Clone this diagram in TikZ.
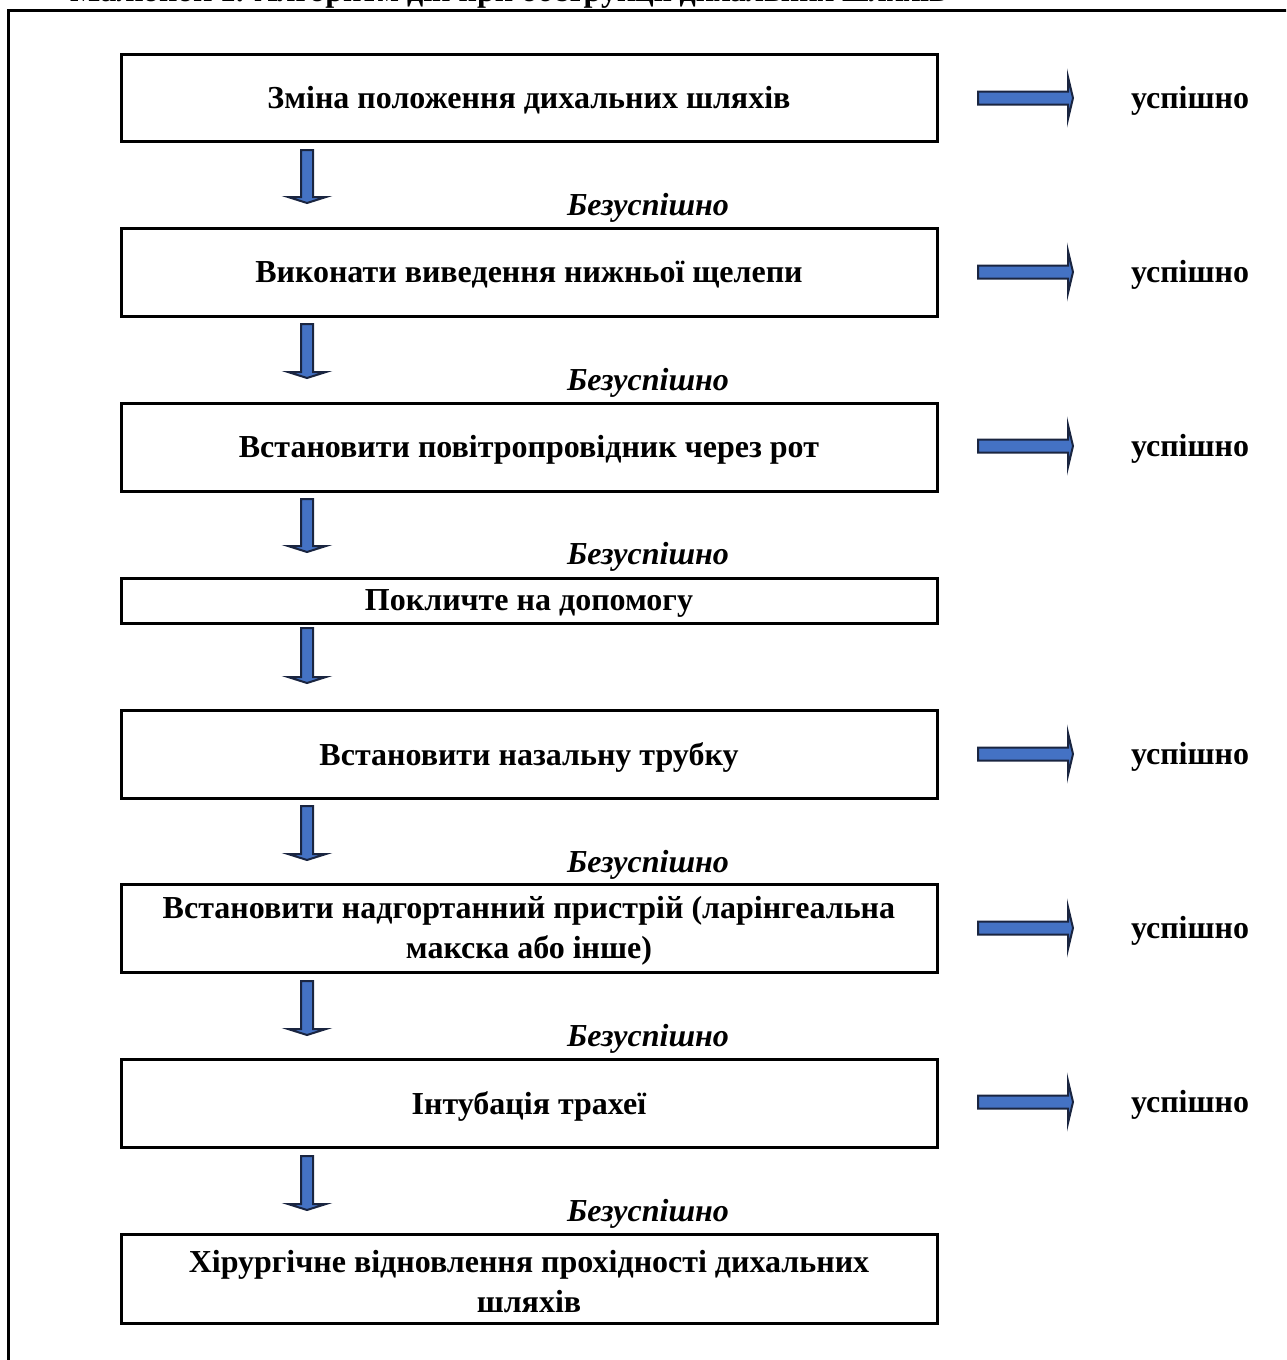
\documentclass[tikz,border=0pt]{standalone}
\usepackage{fontspec}
\setmainfont{Liberation Serif}
\usetikzlibrary{calc}
\definecolor{arrfill}{HTML}{4472C4}
\definecolor{arrline}{HTML}{1A2540}
\tikzset{
  stepbox/.style={draw=black, line width=3pt, minimum width=816pt, inner sep=0pt},
  boxtext/.style={align=center, inner sep=0pt, yshift=-3pt, font=\fontsize{32}{40}\selectfont\bfseries},
  faillabel/.style={font=\fontsize{32}{38}\selectfont\bfseries\itshape, inner sep=0pt},
  oklabel/.style={font=\fontsize{32}{38}\selectfont\bfseries, inner sep=0pt},
  blockarr/.style={fill=arrfill, draw=arrline, line width=2pt, line join=miter}
}
\newcommand{\downarr}[3]{% x top bottom
  \draw[blockarr] (#1-6,#2) -- (#1+6,#2) -- (#1+6,#3-6) -- (#1+19,#3-6) -- (#1,#3) -- (#1-19,#3-6) -- (#1-6,#3-6) -- cycle;}
\newcommand{\rightarr}[1]{% center y
  \draw[blockarr] (978,#1-6.5) -- (1068,#1-6.5) -- (1068,#1-21) -- (1073,#1) -- (1068,#1+21) -- (1068,#1+6.5) -- (978,#1+6.5) -- cycle;}
\begin{document}
\begin{tikzpicture}[x=1pt,y=-1pt]
\useasboundingbox (0,0) rectangle (1286,1360);
\clip (0,0) rectangle (1286,1360);
% outer frame
\draw[line width=3pt] (8.5,1362) -- (8.5,10) -- (1290,10);
% clipped title
\node[anchor=base west, inner sep=0pt, font=\fontsize{32}{38}\selectfont\bfseries] (title) at (70,1) {Малюнок 1. Алгоритм дій при обструкції дихальних шляхів};
% boxes
\node[stepbox, minimum height=87pt, label={[boxtext]center:Зміна положення дихальних шляхів}] (b1) at (529,97.5) {};
\node[stepbox, minimum height=88pt, label={[boxtext]center:Виконати виведення нижньої щелепи}] (b2) at (529,272) {};
\node[stepbox, minimum height=88pt, label={[boxtext]center:Встановити повітропровідник через рот}] (b3) at (529,447) {};
\node[stepbox, minimum height=45pt, label={[boxtext]center:Покличте на допомогу}] (b4) at (529,600.5) {};
\node[stepbox, minimum height=88pt, label={[boxtext]center:Встановити назальну трубку}] (b5) at (529,754) {};
\node[stepbox, minimum height=88pt, label={[boxtext]center:{Встановити надгортанний пристрій (ларінгеальна\\макска або інше)}}] (b6) at (529,928) {};
\node[stepbox, minimum height=88pt, label={[boxtext]center:Інтубація трахеї}] (b7) at (529,1103) {};
\node[stepbox, minimum height=89pt, label={[boxtext]center:{Хірургічне відновлення прохідності дихальних\\шляхів}}] (b8) at (529,1278.5) {};
% fail labels
\foreach \y/\n in {208/f1,383/f2,557/f3,865/f5,1039/f6,1214/f7}
  \node[faillabel] (\n) at (648,\y) {Безуспішно};
% down arrows
\downarr{307}{150}{203}
\downarr{307}{324}{378}
\downarr{307}{499}{552}
\downarr{307}{628}{683}
\downarr{307}{806}{860}
\downarr{307}{981}{1035}
\downarr{307}{1156}{1210}
% success
\foreach \y/\n in {98/s1,272/s2,446/s3,754/s5,928/s6,1102/s7}{
  \rightarr{\y}
  \node[oklabel] (\n) at (1190,\y+3) {успішно};
}
\end{tikzpicture}
\end{document}
